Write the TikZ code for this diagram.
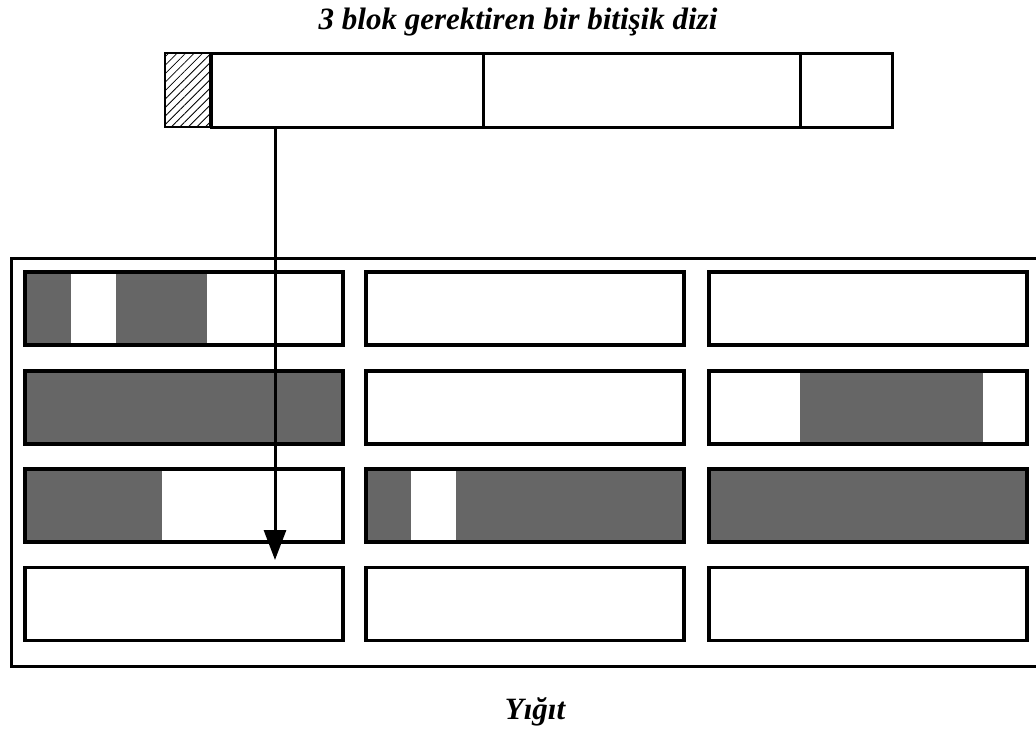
\documentclass[tikz,border=0pt]{standalone}
\usepackage{fontspec}
\setmainfont{Liberation Serif}
\usetikzlibrary{arrows.meta,patterns.meta}

\begin{document}
\begin{tikzpicture}[x=1pt, y=-1pt,
cell/.style={rectangle, minimum width=45pt, minimum height=74pt, inner sep=0pt, draw, line width=2.5pt},
bar/.style={rectangle, minimum width=681pt, minimum height=74pt, inner sep=0pt, draw, line width=3pt},
block/.style={rectangle, minimum width=318pt, minimum height=73pt, inner sep=0pt, draw, line width=3.5pt},
used/.style={fill=black!60},
caption/.style={font=\bfseries\itshape\fontsize{31}{36}\selectfont},
]

\useasboundingbox (0,0) rectangle (1036,731);

% the array
\node (a) [caption] at (518,22) {3 blok gerektiren bir bitişik dizi};
\node (hdr) [cell, pattern={Lines[angle=45, distance=6pt, line width=0.8pt]}] at (187.5,90) {};
\node (bar) [bar, anchor=west] at (hdr.east) {};
\draw [line width=3pt] (483,53) -- (483,127);
\draw [line width=3pt] (800,53) -- (800,127);

% the heap
\node (heap) [rectangle, draw, line width=2.5pt, minimum width=1040pt, minimum height=408pt, anchor=north west] at (10,257) {};
\fill [used] (25,272) rectangle (71,345);
\fill [used] (116,272) rectangle (207,345);
\fill [used] (25,371) rectangle (343,444);
\fill [used] (800,371) rectangle (983,444);
\fill [used] (25,469) rectangle (162,542);
\fill [used] (366,469) rectangle (411,542);
\fill [used] (456,469) rectangle (684,542);
\fill [used] (709,469) rectangle (1027,542);
\node (b11) [block] at (184,308.5) {};
\node (b12) [block] at (525,308.5) {};
\node (b13) [block] at (868,308.5) {};
\node (b21) [block] at (184,407.5) {};
\node (b22) [block] at (525,407.5) {};
\node (b23) [block] at (868,407.5) {};
\node (b31) [block] at (184,505.5) {};
\node (b32) [block] at (525,505.5) {};
\node (b33) [block] at (868,505.5) {};
\node (b41) [block] at (184,604) {};
\node (b42) [block] at (525,604) {};
\node (b43) [block] at (868,604) {};
\node (b) [caption] at (535,712) {Yığıt};

\coordinate (tip) at (275,560);
\draw [line width=3pt, -{Triangle[length=30pt, width=22pt]}] (bar.south -| tip) -- (tip);

\end{tikzpicture}
\end{document}
